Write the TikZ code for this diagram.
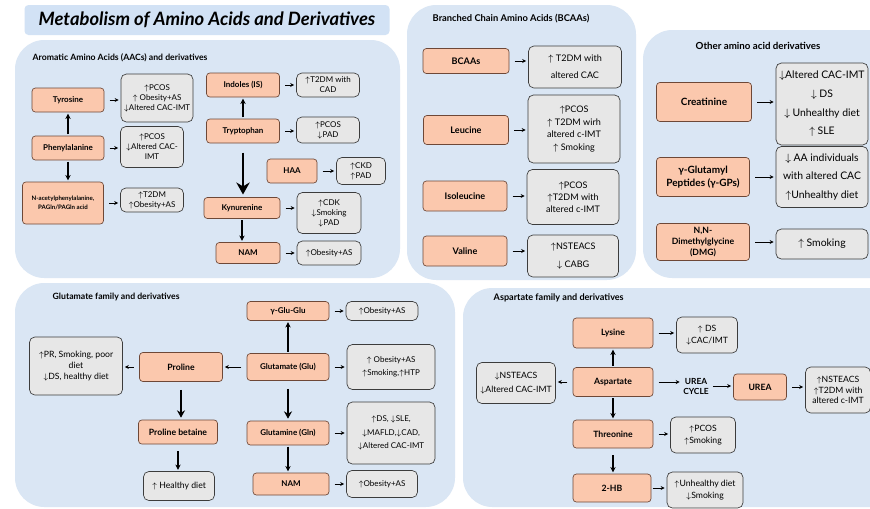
\documentclass[tikz,border=0pt]{standalone}
\usepackage{amsmath,amssymb}
\usepackage{fontspec}
\setmainfont{Lato}
\usepackage{tikz}
\usetikzlibrary{arrows.meta}

\definecolor{panelfill}{RGB}{218,230,244}
\definecolor{titlefill}{RGB}{210,226,245}
\definecolor{srcfill}{RGB}{251,200,173}
\definecolor{srcline}{RGB}{110,72,55}
\definecolor{resfill}{RGB}{231,231,231}
\definecolor{resline}{RGB}{60,60,60}

\begin{document}
\begin{tikzpicture}[x=0.75pt,y=-0.75pt,
		panel_style/.style={fill=panelfill,rounded corners=22pt},
		head_style/.style={anchor=west,font=\bfseries\fontsize{6.5}{7.5}\selectfont},
		src_style/.style={draw=srcline,fill=srcfill,line width=0.5pt,rounded corners=2.5pt,align=center,inner sep=1pt,font=\bfseries\fontsize{6}{7.5}\selectfont},
		res_style/.style={draw=resline,fill=resfill,line width=0.5pt,rounded corners=4pt,align=center,inner sep=1pt,font=\fontsize{6}{7.5}\selectfont},
		box_size/.style 2 args={minimum width=#1*0.75pt,minimum height=#2*0.75pt},
		edge_style/.style={draw=black,line width=0.55pt,-{Stealth[length=3pt,width=3pt]},shorten <=4pt,shorten >=1.5pt},
		down_style/.style={draw=black,line width=0.9pt,-{Stealth[length=4pt,width=4pt]},shorten <=1pt,shorten >=1pt},
		thick_style/.style={draw=black,line width=1.3pt,-{Stealth[length=5.5pt,width=6pt]},shorten <=6pt,shorten >=1.5pt},
		big_style/.style={draw=black,line width=2pt,-{Stealth[length=9pt,width=10pt]},shorten <=7pt,shorten >=2pt}]

		\useasboundingbox (0,0) rectangle (870,508);
		\clip (0,0) rectangle (870,508);
		\fill[white] (0,0) rectangle (870,508);

		% panels
		\fill[panel_style] (15,40) rectangle (400,278);
		\fill[panel_style] (407,5) rectangle (636,280);
		\fill[panel_style] (643,30) rectangle (900,278);
		\fill[panel_style] (15,283) rectangle (455,507);
		\fill[panel_style] (463,288) rectangle (900,507);

		\node[fill=titlefill,rounded corners=3pt,box_size={365}{30},font=\bfseries\itshape\fontsize{13.8}{15}\selectfont] (title) at (207,20) {Metabolism of Amino Acids and Derivatives};

		\node[head_style] (h_aac) at (28,58) {Aromatic Amino Acids (AACs) and derivatives};
		\node[head_style,font=\bfseries\fontsize{7}{8}\selectfont] (h_bcaa) at (428,19) {Branched Chain Amino Acids (BCAAs)};
		\node[head_style,anchor=center,font=\bfseries\fontsize{7.3}{8}\selectfont] (h_other) at (758,46) {Other amino acid derivatives};
		\node[head_style] (h_glu) at (48,297) {Glutamate family and derivatives};
		\node[head_style,font=\bfseries\fontsize{6.8}{8}\selectfont] (h_asp) at (489,298) {Aspartate family and derivatives};

		% aromatic amino acids
		\node[src_style,box_size={72}{24}] (tyr) at (68,100) {Tyrosine};
		\node[res_style,box_size={72}{48}] (tyr_r) at (157,98) {$\uparrow$PCOS\\$\uparrow$ Obesity+AS\\$\downarrow$Altered CAC-IMT};
		\node[src_style,box_size={72}{24}] (phe) at (68,148) {Phenylalanine};
		\node[res_style,box_size={63}{41}] (phe_r) at (152,147) {$\uparrow$PCOS\\$\downarrow$Altered CAC-\\IMT};
		\node[src_style,box_size={81}{42},font=\bfseries\fontsize{4.6}{6.5}\selectfont] (nac) at (63,203) {N-acetylphenylalanine,\\PAGln/PAGln acid};
		\node[res_style,box_size={63}{24}] (nac_r) at (152,200) {$\uparrow$T2DM\\$\uparrow$Obesity+AS};
		\node[src_style,box_size={73}{24}] (ind) at (243,85) {Indoles (IS)};
		\node[res_style,box_size={63}{24}] (ind_r) at (328,85) {$\uparrow$T2DM with\\CAD};
		\node[src_style,box_size={73}{24}] (trp) at (243,131) {Tryptophan};
		\node[res_style,box_size={63}{26}] (trp_r) at (328,130) {$\uparrow$PCOS\\$\downarrow$PAD};
		\node[src_style,box_size={50}{24}] (haa) at (292,171) {HAA};
		\node[res_style,box_size={49}{27}] (haa_r) at (361,171) {$\uparrow$CKD\\$\uparrow$PAD};
		\node[src_style,box_size={76}{21}] (kyn) at (242,208) {Kynurenine};
		\node[res_style,box_size={64}{41}] (kyn_r) at (329,213) {$\uparrow$CDK\\$\downarrow$Smoking\\$\downarrow$PAD};
		\node[src_style,box_size={64}{21}] (nam_a) at (248,253) {NAM};
		\node[res_style,box_size={64}{24}] (nam_a_r) at (329,253) {$\uparrow$Obesity+AS};

		\draw[edge_style] (tyr.east) -- (tyr.east -| tyr_r.west);
		\draw[edge_style] (phe.east) -- (phe.east -| phe_r.west);
		\draw[edge_style] (nac.east) -- (nac.east -| nac_r.west);
		\draw[edge_style] (ind.east) -- (ind.east -| ind_r.west);
		\draw[edge_style] (trp.east) -- (trp.east -| trp_r.west);
		\draw[edge_style] (haa.east) -- (haa.east -| haa_r.west);
		\draw[edge_style] (kyn.east) -- (kyn.east -| kyn_r.west);
		\draw[edge_style] (nam_a.east) -- (nam_a.east -| nam_a_r.west);
		\draw[down_style] (phe.north) -- (tyr.south);
		\draw[down_style] (phe.south) -- (phe.south |- nac.north);
		\draw[down_style] (trp.north) -- (ind.south);
		\draw[big_style] (trp.south) -- (trp.south |- kyn.north);
		\draw[down_style] (kyn.south) -- (kyn.south |- nam_a.north);

		% branched chain amino acids
		\node[src_style,box_size={86}{25},font=\bfseries\fontsize{6.8}{8}\selectfont] (bcaa) at (466,61) {BCAAs};
		\node[res_style,box_size={93}{42},font=\fontsize{6.8}{13}\selectfont] (bcaa_r) at (575,67) {$\uparrow$ T2DM with\\altered CAC};
		\node[src_style,box_size={85}{29},font=\bfseries\fontsize{6.8}{8}\selectfont] (leu) at (466,130) {Leucine};
		\node[res_style,box_size={92}{68},font=\fontsize{6.8}{9.5}\selectfont] (leu_r) at (574,129) {$\uparrow$PCOS\\$\uparrow$ T2DM wirh\\altered c-IMT\\$\uparrow$ Smoking};
		\node[src_style,box_size={84}{30},font=\bfseries\fontsize{6.8}{8}\selectfont] (ile) at (465,196) {Isoleucine};
		\node[res_style,box_size={92}{55},font=\fontsize{6.8}{9}\selectfont] (ile_r) at (573,197) {$\uparrow$PCOS\\$\uparrow$T2DM with\\altered c-IMT};
		\node[src_style,box_size={84}{30},font=\bfseries\fontsize{6.8}{8}\selectfont] (val) at (465,251) {Valine};
		\node[res_style,box_size={91}{42},font=\fontsize{6.8}{13}\selectfont] (val_r) at (573,256) {$\uparrow$NSTEACS\\$\downarrow$ CABG};

		\draw[edge_style] (bcaa.east) -- (bcaa.east -| bcaa_r.west);
		\draw[edge_style] (leu.east) -- (leu.east -| leu_r.west);
		\draw[edge_style] (ile.east) -- (ile.east -| ile_r.west);
		\draw[edge_style] (val.east) -- (val.east -| val_r.west);

		% other derivatives
		\node[src_style,box_size={95}{39},font=\bfseries\fontsize{7.5}{9}\selectfont] (crea) at (704,102) {Creatinine};
		\node[res_style,box_size={92}{82},font=\fontsize{7.8}{14}\selectfont] (crea_r) at (822,104) {$\downarrow$Altered CAC-IMT\\$\downarrow$ DS\\$\downarrow$ Unhealthy diet\\$\uparrow$ SLE};
		\node[src_style,box_size={93}{39},font=\bfseries\fontsize{7.5}{9.5}\selectfont] (ggp) at (703,177) {γ-Glutamyl\\Peptides (γ-GPs)};
		\node[res_style,box_size={92}{61},font=\fontsize{7.8}{14}\selectfont] (ggp_r) at (822,177) {$\downarrow$ AA individuals\\with altered CAC\\$\uparrow$Unhealthy diet};
		\node[src_style,box_size={93}{37},font=\bfseries\fontsize{6.5}{8.5}\selectfont] (dmg) at (703,242) {N,N-\\Dimethylglycine\\(DMG)};
		\node[res_style,box_size={92}{30},font=\fontsize{7.8}{9}\selectfont] (dmg_r) at (822,244) {$\uparrow$ Smoking};

		\draw[edge_style] (crea.east) -- (crea.east -| crea_r.west);
		\draw[edge_style] (ggp.east) -- (ggp.east -| ggp_r.west);
		\draw[edge_style] (dmg.east) -- (dmg.east -| dmg_r.west);

		% glutamate family
		\node[src_style,box_size={83}{29},font=\bfseries\fontsize{6.5}{8}\selectfont] (pro) at (181,367) {Proline};
		\node[res_style,box_size={93}{58},font=\fontsize{6.5}{8}\selectfont] (pro_r) at (76,366) {$\uparrow$PR, Smoking, poor\\diet\\$\downarrow$DS, healthy diet};
		\node[src_style,box_size={79}{24},font=\bfseries\fontsize{6.5}{8}\selectfont] (prob) at (178,432) {Proline betaine};
		\node[res_style,box_size={71}{29},font=\fontsize{6.5}{8}\selectfont] (prob_r) at (179,486) {$\uparrow$ Healthy diet};
		\node[src_style,box_size={82}{19}] (gg) at (288,311) {γ-Glu-Glu};
		\node[res_style,box_size={72}{19}] (gg_r) at (382,311) {$\uparrow$Obesity+AS};
		\node[src_style,box_size={82}{27}] (glu) at (288,367) {Glutamate (Glu)};
		\node[res_style,box_size={88}{45},font=\fontsize{6}{10}\selectfont] (glu_r) at (391,367) {$\uparrow$ Obesity+AS\\$\uparrow$Smoking,$\uparrow$HTP};
		\node[src_style,box_size={82}{24}] (gln) at (288,433) {Glutamine (Gln)};
		\node[res_style,box_size={88}{62},font=\fontsize{6}{10}\selectfont] (gln_r) at (391,433) {$\uparrow$DS, $\downarrow$SLE,\\$\downarrow$MAFLD,$\downarrow$CAD,\\$\downarrow$Altered CAC-IMT};
		\node[src_style,box_size={76}{22}] (nam_g) at (291,484) {NAM};
		\node[res_style,box_size={71}{27}] (nam_g_r) at (382,484) {$\uparrow$Obesity+AS};

		\draw[edge_style] (glu.west) -- (glu.west -| pro.east);
		\draw[edge_style] (pro.west) -- (pro.west -| pro_r.east);
		\draw[thick_style] (pro.south) -- (pro.south |- prob.north);
		\draw[down_style,shorten <=5pt] (prob.south) -- (prob.south |- prob_r.north);
		\draw[down_style] (glu.north) -- (glu.north |- gg.south);
		\draw[thick_style] (glu.south) -- (glu.south |- gln.north);
		\draw[down_style] (gln.south) -- (gln.south |- nam_g.north);
		\draw[edge_style] (gg.east) -- (gg.east -| gg_r.west);
		\draw[edge_style] (glu.east) -- (glu.east -| glu_r.west);
		\draw[edge_style] (gln.east) -- (gln.east -| gln_r.west);
		\draw[edge_style] (nam_g.east) -- (nam_g.east -| nam_g_r.west);

		% aspartate family
		\node[src_style,box_size={80}{30},font=\bfseries\fontsize{6.5}{8}\selectfont] (lys) at (613,333) {Lysine};
		\node[res_style,box_size={61}{36},font=\fontsize{6.5}{9}\selectfont] (lys_r) at (707,335) {$\uparrow$ DS\\$\downarrow$CAC/IMT};
		\node[src_style,box_size={80}{29},font=\bfseries\fontsize{6.5}{8}\selectfont] (asp) at (613,382) {Aspartate};
		\node[res_style,box_size={79}{41},font=\fontsize{6.5}{10}\selectfont] (asp_r) at (516,383) {$\downarrow$NSTEACS\\$\downarrow$Altered CAC-IMT};
		\node[src_style,box_size={80}{28},font=\bfseries\fontsize{6.5}{8}\selectfont] (thr) at (613,434) {Threonine};
		\node[res_style,box_size={65}{36},font=\fontsize{6.5}{9}\selectfont] (thr_r) at (703,435) {$\uparrow$PCOS\\$\uparrow$Smoking};
		\node[src_style,box_size={78}{28},font=\bfseries\fontsize{6.5}{8}\selectfont] (hb) at (612,488) {2-HB};
		\node[res_style,box_size={76}{36},font=\fontsize{6.5}{9}\selectfont] (hb_r) at (705,490) {$\uparrow$Unhealthy diet\\$\downarrow$Smoking};
		\node[align=center,inner sep=1pt,font=\bfseries\fontsize{6.3}{7.5}\selectfont] (ucyc) at (696,386) {UREA\\CYCLE};
		\node[src_style,box_size={53}{26},font=\bfseries\fontsize{6.5}{8}\selectfont] (urea) at (760,387) {UREA};
		\node[res_style,box_size={65}{46},font=\fontsize{6.5}{8}\selectfont] (urea_r) at (838,390) {$\uparrow$NSTEACS\\$\uparrow$T2DM with\\altered c-IMT};

		\draw[down_style] (asp.north) -- (asp.north |- lys.south);
		\draw[down_style] (asp.south) -- (asp.south |- thr.north);
		\draw[down_style,shorten <=5pt] (thr.south) -- (thr.south |- hb.north);
		\draw[edge_style] (asp.west) -- (asp.west -| asp_r.east);
		\draw[edge_style] (lys.east) -- (lys.east -| lys_r.west);
		\draw[edge_style] (asp.east) -- (asp.east -| ucyc.west);
		\draw[edge_style,shorten <=2pt] (ucyc.east) -- (ucyc.east -| urea.west);
		\draw[edge_style] (urea.east) -- (urea.east -| urea_r.west);
		\draw[edge_style] (thr.east) -- (thr.east -| thr_r.west);
		\draw[edge_style,shorten <=1pt] (hb.east) -- (hb.east -| hb_r.west);

		\end{tikzpicture}
\end{document}
